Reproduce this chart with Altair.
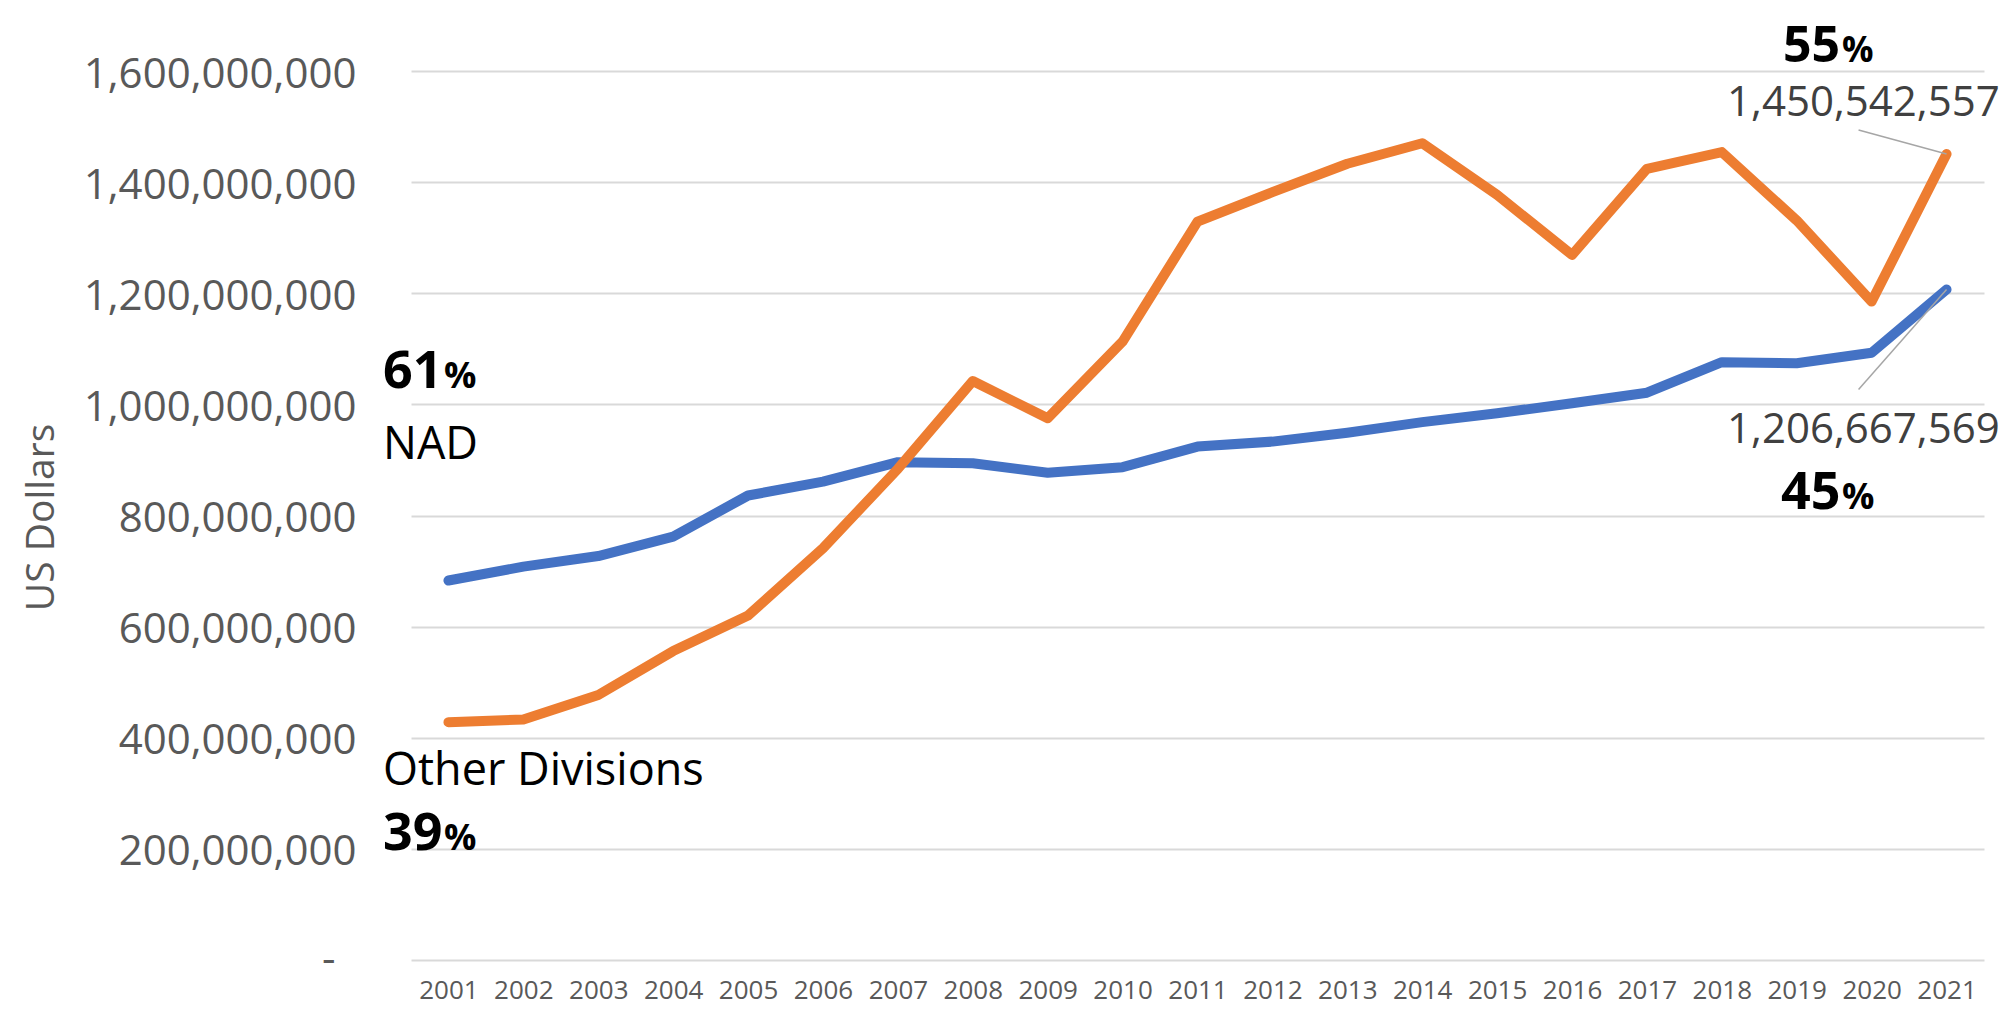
import altair as alt
import pandas as pd

years = [str(y) for y in range(2001, 2022)]
series_names = ["NAD", "Other Divisions"]
series_colors = ["#4472C4", "#ED7D31"]

nad = [683e6, 708e6, 727e6, 762e6, 836e6, 861e6, 896e6, 894e6, 877e6, 887e6,
       924e6, 933e6, 949e6, 968e6, 984e6, 1002e6, 1021e6, 1076e6, 1074e6, 1093e6,
       1206667569]
other = [428e6, 433e6, 477e6, 556e6, 620e6, 741e6, 884e6, 1042e6, 975e6, 1113e6,
         1329e6, 1382e6, 1433e6, 1470e6, 1377e6, 1269e6, 1424e6, 1454e6, 1331e6, 1185e6,
         1450542557]
y_ticks = [0, 200e6, 400e6, 600e6, 800e6, 1000e6, 1200e6, 1400e6, 1600e6]

rows = []
for i, yr in enumerate(years):
    rows.append({"year": yr, "value": nad[i], "series": series_names[0]})
    rows.append({"year": yr, "value": other[i], "series": series_names[1]})
df = pd.DataFrame(rows)

FONT = "Open Sans"
AXIS_GREY = "#595959"

x_enc = alt.X(
    "year:O", sort=years,
    scale=alt.Scale(type="point", padding=0.5),
    axis=alt.Axis(title=None, labelAngle=0, labelFontSize=26, labelColor=AXIS_GREY,
                  labelFont=FONT, labelPadding=17, ticks=False, domain=False, grid=False),
)
y_enc = alt.Y(
    "value:Q",
    scale=alt.Scale(domain=[0, 1.6e9], nice=False, zero=True),
    axis=alt.Axis(
        values=y_ticks,
        labelExpr="datum.value == 0 ? '' : format(datum.value, ',')",
        labelFontSize=42, labelColor=AXIS_GREY, labelFont=FONT, labelPadding=55,
        labelOffset=3, labelLimit=500,
        ticks=False, domain=False, grid=True, gridColor="#d9d9d9", gridWidth=2,
        title="US Dollars", titleFont=FONT, titleFontSize=39, titleFontWeight="normal",
        titleColor=AXIS_GREY, titleAngle=270, titleAlign="center",
        titleBaseline="alphabetic", titleX=-358, titleY=446,
    ),
)

lines = alt.Chart(df).mark_line(strokeWidth=10, strokeCap="round", strokeJoin="round").encode(
    x=x_enc, y=y_enc,
    color=alt.Color("series:N", scale=alt.Scale(domain=series_names, range=series_colors), legend=None),
)


def leader(series, dx, dy):
    return alt.Chart(df).transform_filter(
        (alt.datum.year == years[-1]) & (alt.datum.series == series)
    ).mark_rule(color="#a6a6a6", strokeWidth=1.5, x2Offset=dx, y2Offset=dy).encode(
        x=alt.X("year:O", sort=years), y=alt.Y("value:Q"),
        x2=alt.X2("year"), y2=alt.Y2("value"),
    )


def label(text, x, y, size, weight="normal", color="black", baseline="alphabetic"):
    return alt.Chart(pd.DataFrame({"t": [text]})).mark_text(
        text=text, align="left", baseline=baseline, font=FONT,
        fontSize=size, fontWeight=weight, color=color,
    ).encode(x=alt.value(x), y=alt.value(y))


# zero tick label (Excel accounting style dash), set apart from the other labels
zero_label = alt.Chart(pd.DataFrame({"v": [y_ticks[0]]})).mark_text(
    text="-", align="left", baseline="middle", font=FONT, fontSize=42, color=AXIS_GREY,
    dx=-89, dy=0,
).encode(x=alt.value(0), y=alt.Y("v:Q"))

annotations = [
    label("61", -28, 317, 52, "bold"),
    label("%", 33, 317, 36, "bold"),
    label("NAD", -28, 388, 45),
    label("Other Divisions", -28, 714, 45),
    label("39", -28, 779, 52, "bold"),
    label("%", 33, 779, 36, "bold"),
    label("55", 1372, -9, 50, "bold"),
    label("%", 1431, -9, 35, "bold"),
    label("1,450,542,557", 1316, 45, 42, color="#404040"),
    label("1,206,667,569", 1316, 372, 42, color="#404040"),
    label("45", 1370, 438, 52, "bold"),
    label("%", 1431, 438, 36, "bold"),
]

chart = alt.layer(
    lines,
    leader(series_names[1], -88, -24),
    leader(series_names[0], -88, 100),
    zero_label,
    *annotations,
).properties(
    width=1573, height=889,
    autosize=alt.AutoSizeParams(type="none"),
    padding={"left": 403, "top": 63, "right": 24, "bottom": 46},
).configure_view(stroke=None)

chart.save("out.html", embed_options={"renderer": "svg", "actions": False})
